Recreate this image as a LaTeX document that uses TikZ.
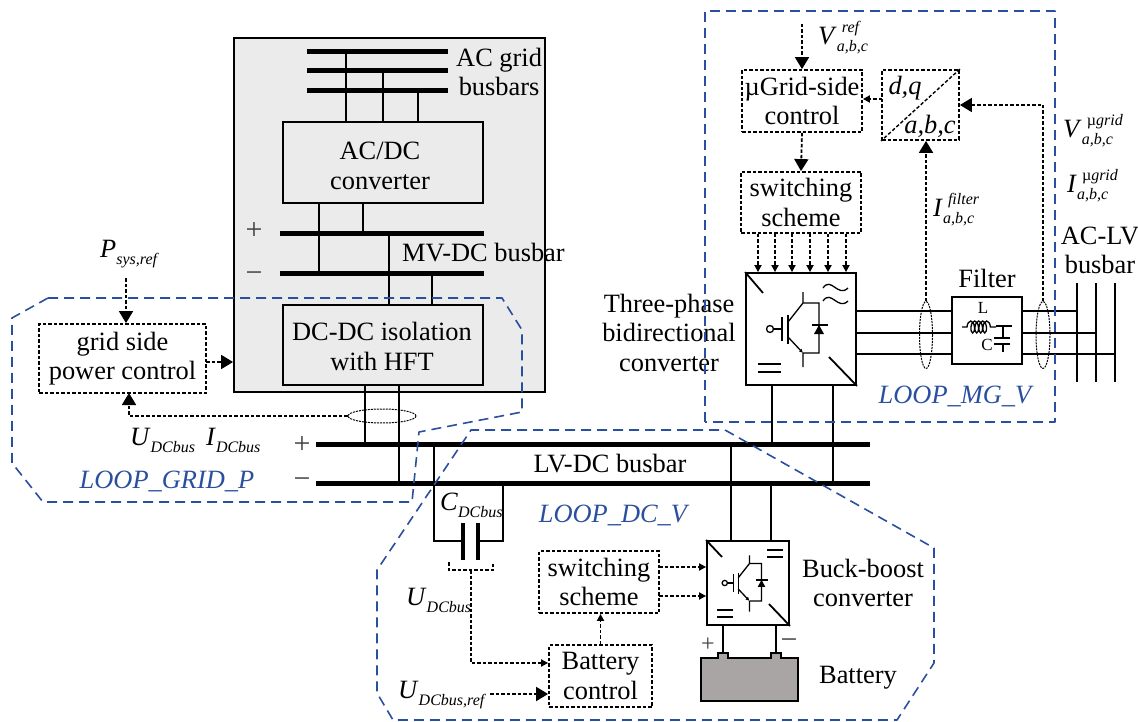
\documentclass[tikz,border=0pt]{standalone}
\usepackage{fontspec}
\setmainfont{Liberation Serif}
\usetikzlibrary{arrows.meta,decorations.pathmorphing,shapes.geometric}

\newcommand{\sig}[4][0pt]{\textit{#2}\rlap{\kern#1\raisebox{12pt}{\fontsize{16}{16}\selectfont\textit{#3}}}\raisebox{-7pt}{\fontsize{16}{16}\selectfont\textit{#4}}}

\tikzset{
	igbt/.pic={
		\draw[line width=1.3pt] (-31,0) circle (3.5pt);
		\draw[line width=1.3pt] (-27.5,0) -- (-19,0) (-19,-12) -- (-19,12) (-13,-14) -- (-13,15);
		\draw[line width=1.3pt] (-13,-7) -- (2,-26) (2,-37) -- (2,-26) -- (18,-26) -- (18,24) -- (2,24) (2,24) -- (2,38);
		\draw[line width=1.3pt, -{Latex[length=4pt,width=4pt]}] (-13,8) -- (2,24);
		\fill (18,-4) -- (13,5) -- (23,5) -- cycle;
		\draw[line width=1.3pt] (11,-4) -- (27,-4);
	}
}

\begin{document}
\begin{tikzpicture}[x=1pt, y=-1pt, font=\fontsize{26.4}{29.5}\selectfont, every node/.style={inner sep=0pt}]
	\definecolor{loopBlue}{RGB}{42, 79, 159}
	\definecolor{cabinetGrey}{RGB}{235, 235, 235}
	\definecolor{batteryGrey}{RGB}{170, 165, 165}
	\tikzstyle{solidbox}=[rectangle, draw, line width=1.8pt, align=center, fill=cabinetGrey]
	\tikzstyle{ctrlbox}=[rectangle, draw, line width=1.8pt, dash pattern=on 3.5pt off 2pt, align=center]
	\tikzstyle{busbar}=[rectangle, fill=black, minimum height=5pt]
	\tikzstyle{wire}=[draw, line width=1.8pt]
	\tikzstyle{ctrl}=[draw, line width=1.8pt, dash pattern=on 3.5pt off 2pt]
	\tikzstyle{bigtip}=[-{Triangle[length=12pt,width=14pt]}]
	\tikzstyle{smalltip}=[-{Triangle[length=7pt,width=7pt]}]
	\tikzstyle{sense}=[ellipse, draw, line width=1pt, dash pattern=on 2pt off 1pt]
	\tikzstyle{loopline}=[draw=loopBlue, line width=1.6pt, dash pattern=on 10pt off 6pt, line join=round]
	\tikzstyle{looplabel}=[text=loopBlue, font=\fontsize{26.4}{29.5}\selectfont\itshape]
	\tikzstyle{sign}=[font=\fontsize{30}{30}\selectfont, text=black!75]

	\useasboundingbox (0,0) rectangle (1138,722);

	% grid cabinet
	\node [solidbox, minimum width=311pt, minimum height=354pt] (cabinet) at (389.5,215) {};
	\node [busbar, minimum width=141pt] (acBusA) at (377.5,52) {};
	\node [busbar, minimum width=141pt] (acBusB) at (377.5,71) {};
	\node [busbar, minimum width=141pt] (acBusC) at (377.5,91) {};
	\node [solidbox, minimum width=200pt, minimum height=81pt] (acdc) at (383,162.5) {};
	\node [align=center] (acdcLabel) at (380,166) {AC/DC\\converter};
	\node [busbar, minimum width=204pt] (mvPlus) at (382,234) {};
	\node [busbar, minimum width=204pt] (mvMinus) at (382,273) {};
	\node [solidbox, minimum width=200pt, minimum height=80pt] (isol) at (383,345) {};
	\node [align=center] (isolLabel) at (382,346.5) {DC-DC isolation\\with HFT};
	\node [anchor=west, align=center] (acLabel) at (456,72) {AC grid\\busbars};
	\node [anchor=west] (mvLabel) at (402,253) {MV-DC busbar};
	\node [sign] (mvP) at (254,231) {+};
	\node [sign] (mvM) at (254,277) {−};

	\path[wire]
	(346,0 |- acBusA) edge (346,0 |- acdc.north)
	(383,0 |- acBusB) edge (383,0 |- acdc.north)
	(418,0 |- acBusC) edge (418,0 |- acdc.north)
	(319,0 |- acdc.south) edge (319,0 |- mvMinus)
	(363,0 |- acdc.south) edge (363,0 |- mvPlus)
	(389,0 |- mvPlus) edge (389,0 |- isol.north)
	(432,0 |- mvMinus) edge (432,0 |- isol.north);

	% LV-DC busbar
	\node [busbar, minimum width=554pt] (lvPlus) at (593,444) {};
	\node [busbar, minimum width=554pt] (lvMinus) at (593,483) {};
	\node (lvLabel) at (610,464) {LV-DC busbar};
	\node [sign] (lvP) at (302,445) {+};
	\node [sign] (lvM) at (302,483) {−};

	\path[wire]
	(365,0 |- isol.south) edge (365,0 |- lvPlus)
	(399,0 |- isol.south) edge (399,0 |- lvMinus);

	% grid side control
	\node [ctrlbox, minimum width=167pt, minimum height=69pt] (gridCtrl) at (122.5,358.5) {grid side\\power control};
	\node [sense, minimum width=68pt, minimum height=14pt] (senseGrid) at (382,416) {};
	\coordinate (pRef) at (126,278);
	\coordinate (gridOut) at (206,362);
	\coordinate (gridFb) at (129,393);
	\node [anchor=base west] (pLabel) at (100,258) {\sig{P}{}{sys,ref}};
	\node [anchor=base west] (uGrid) at (130,445) {\sig{U}{}{DCbus}};
	\node [anchor=base west] (iGrid) at (206,445) {\sig{I}{}{DCbus}};

	\draw[ctrl, bigtip] (pRef) -- (pRef |- gridCtrl.north);
	\draw[ctrl, bigtip] (gridOut) -- (gridOut -| cabinet.west);
	\draw[ctrl, bigtip] (senseGrid.west) -| (gridFb);

	% DC link capacitor
	\coordinate (capL) at (434,541);
	\coordinate (capR) at (503,541);
	\coordinate (plateL) at (463,541);
	\coordinate (plateR) at (478,541);
	\coordinate (capSense) at (471,570);
	\draw[wire] (capL |- lvMinus) -- (capL) -- (plateL);
	\draw[wire] (capR |- lvMinus) -- (capR) -- (plateR);
	\draw[line width=1.8pt] (capL |- lvPlus) -- (capL |- lvMinus);
	\draw[line width=4pt] (463,523) -- (463,560) (478,523) -- (478,560);
	\draw[ctrl] (449,562) -- (449,570) -- (493,570) -- (493,562);
	\node [anchor=base west] (cLabel) at (440,510) {\sig{C}{}{DCbus}};
	\node [anchor=base west] (uCap) at (406,605) {\sig{U}{}{DCbus}};
	\node [anchor=base west] (uRef) at (398,698) {\sig{U}{}{DCbus,ref}};

	% battery side
	\node [ctrlbox, minimum width=120pt, minimum height=62pt] (swBatt) at (599,582) {switching\\scheme};
	\node [ctrlbox, minimum width=103pt, minimum height=62pt] (battCtrl) at (600.5,676) {Battery\\control};
	\node [rectangle, draw, line width=1.8pt, minimum width=82pt, minimum height=84pt] (buck) at (748,583) {};
	\pic [scale=0.75] at (748,583) {igbt};
	\draw[line width=1.8pt] (buck.north west) -- (722,557) (769,604) -- (buck.south east);
	\draw[line width=1.6pt] (767,550) -- (783,550) (767,557) -- (783,557) (717,610) -- (733,610) (717,617) -- (733,617);
	\coordinate (uRefOut) at (490,694);
	\coordinate (swOutA) at (659,567);
	\coordinate (swOutB) at (659,596);
	\coordinate (battP) at (723,653);
	\coordinate (battM) at (776,653);
	\draw[line width=2pt, fill=batteryGrey] (701,701) -- (701,658) -- (718,658) -- (718,653) -- (728,653) -- (728,658) -- (771,658) -- (771,653) -- (781,653) -- (781,658) -- (798,658) -- (798,701) -- cycle;
	\node [align=center] (buckLabel) at (863,583) {Buck-boost\\converter};
	\node (battLabel) at (858,678) {Battery};
	\node [sign, font=\fontsize{24}{24}\selectfont] (battPlus) at (708,645) {+};
	\node [sign] (battMinus) at (789,644) {−};

	\draw[ctrl, smalltip] (capSense) |- (battCtrl.west |- 0,663);
	\draw[ctrl, bigtip] (uRefOut) -- (uRefOut -| battCtrl.west);
	\draw[ctrl, smalltip] (battCtrl.north) -- (battCtrl.north |- swBatt.south);
	\draw[ctrl, smalltip] (swOutA) -- (swOutA -| buck.west);
	\draw[ctrl, smalltip] (swOutB) -- (swOutB -| buck.west);
	\path[wire]
	(731,0 |- lvPlus) edge (731,0 |- buck.north)
	(771,0 |- lvMinus) edge (771,0 |- buck.north)
	(battP |- buck.south) edge (battP)
	(battM |- buck.south) edge (battM);

	% microgrid converter
	\node [ctrlbox, minimum width=120pt, minimum height=62pt] (uCtrl) at (802,101) {µGrid-side\\control};
	\node [ctrlbox, minimum width=77pt, minimum height=70pt] (dq) at (920.5,105) {};
	\node [ctrlbox, minimum width=120pt, minimum height=61pt] (swMg) at (801,202.5) {switching\\scheme};
	\node [rectangle, draw, line width=1.8pt, minimum width=110pt, minimum height=112pt] (conv) at (801,329) {};
	\node [rectangle, draw, line width=1.8pt, minimum width=70pt, minimum height=67pt] (filter) at (987,330.5) {};
	\pic at (801,329) {igbt};
	\draw[line width=1.8pt] (conv.north west) -- (763,293) (829,357) -- (conv.south east);
	\draw[line width=1.6pt] (758,364) -- (781,364) (758,372) -- (781,372);
	\draw[line width=1.3pt] (823,288) .. controls (831,276) and (838,298) .. (848,288);
	\draw[line width=1.3pt] (823,301) .. controls (831,289) and (838,311) .. (848,301);
	\draw[ctrl, line width=1.4pt] (dq.north east) -- (dq.south west);
	\node [font=\fontsize{26.4}{26}\selectfont\itshape] (dqLabel) at (905,88) {d,q};
	\node [font=\fontsize{26.4}{26}\selectfont\itshape] (abcLabel) at (930,126) {a,b,c};

	\node [anchor=base west] (vRef) at (818,45) {\sig[5pt]{V}{ref}{a,b,c}};
	\node [anchor=base west] (vGrid) at (1063,138) {\sig[5pt]{V}{\textup{µ}grid}{a,b,c}};
	\node [anchor=base west] (iGridMg) at (1067,193) {\sig[5pt]{I}{\textup{µ}grid}{a,b,c}};
	\node [anchor=base west] (iFilter) at (933,217) {\sig[5pt]{I}{filter}{a,b,c}};
	\node [align=center] (convLabel) at (669,332.5) {Three-phase\\bidirectional\\converter};
	\node (filterLabel) at (987,278) {Filter};
	\node [align=center] (acLvLabel) at (1100,250.5) {AC-LV\\busbar};

	% filter elements
	\coordinate (coilIn) at (962,327);
	\coordinate (coilOut) at (1012,326);
	\draw[line width=1.3pt, decorate, decoration={coil, aspect=0.45, segment length=4pt, amplitude=6pt, pre length=5pt, post length=5pt}] (coilIn) -- (996,327);
	\draw[line width=1.3pt] (996,326) -- (coilOut);
	\draw[line width=1.6pt] (1003,326) -- (1003,338) (1003,344) -- (1003,352);
	\draw[line width=2pt] (994,338) -- (1010,338) (994,344) -- (1010,344);
	\node [font=\fontsize{17}{17}\selectfont] (lLabel) at (983,308) {L};
	\node [font=\fontsize{17}{17}\selectfont] (cValue) at (987,345) {C};

	% three phases and AC-LV bus
	\coordinate (lvA) at (1077,283);
	\coordinate (lvB) at (1096,283);
	\coordinate (lvC) at (1115,283);
	\draw[wire] (lvA) -- (1077,382);
	\draw[wire] (lvB) -- (1096,382);
	\draw[wire] (lvC) -- (1115,382);
	\path[wire]
	(conv.east |- 0,311) edge (filter.west |- 0,311)
	(conv.east |- 0,333) edge (filter.west |- 0,333)
	(conv.east |- 0,354) edge (filter.west |- 0,354)
	(filter.east |- 0,311) edge (lvA |- 0,311)
	(filter.east |- 0,333) edge (lvB |- 0,333)
	(filter.east |- 0,354) edge (lvC |- 0,354);
	\node [sense, minimum width=13pt, minimum height=67pt] (senseFilter) at (926,335) {};
	\node [sense, minimum width=14pt, minimum height=67pt] (senseGridMg) at (1043,335) {};

	\path[wire]
	(772,0 |- conv.south) edge (772,0 |- lvPlus)
	(833,0 |- conv.south) edge (833,0 |- lvMinus);

	\coordinate (vRefIn) at (802,24);
	\coordinate (dqOut) at (882,99);
	\draw[ctrl, bigtip] (vRefIn) -- (vRefIn |- uCtrl.north);
	\draw[ctrl, smalltip] (dqOut) -- (dqOut -| uCtrl.east);
	\draw[ctrl, bigtip] (uCtrl.south) -- (swMg.north);
	\draw[ctrl, bigtip] (senseFilter.north) -- (senseFilter.north |- dq.south);
	\draw[ctrl, bigtip] (senseGridMg.north) |- (dq.east);
	\foreach \px in {758,775,792,810,828,846}
		\draw[ctrl, smalltip] (\px,0 |- swMg.south) -- (\px,0 |- conv.north);

	% control loops
	\path[loopline] (48,298) -- (502,298) -- (522,330) -- (522,412) -- (419,432) -- (412,502) -- (43,502) -- (12,463) -- (12,318) -- cycle;
	\path[loopline] (705,422) -- (705,11) -- (1055,11) -- (1055,422) -- cycle;
	\path[loopline] (725,430) -- (934,548) -- (934,663) -- (897,720) -- (393,720) -- (377,693) -- (377,570) -- (471,430) -- cycle;
	\node [looplabel] (loopGrid) at (167,481) {LOOP\_GRID\_P};
	\node [looplabel] (loopMg) at (955,396) {LOOP\_MG\_V};
	\node [looplabel] (loopDc) at (613,515) {LOOP\_DC\_V};
\end{tikzpicture}
\end{document}
